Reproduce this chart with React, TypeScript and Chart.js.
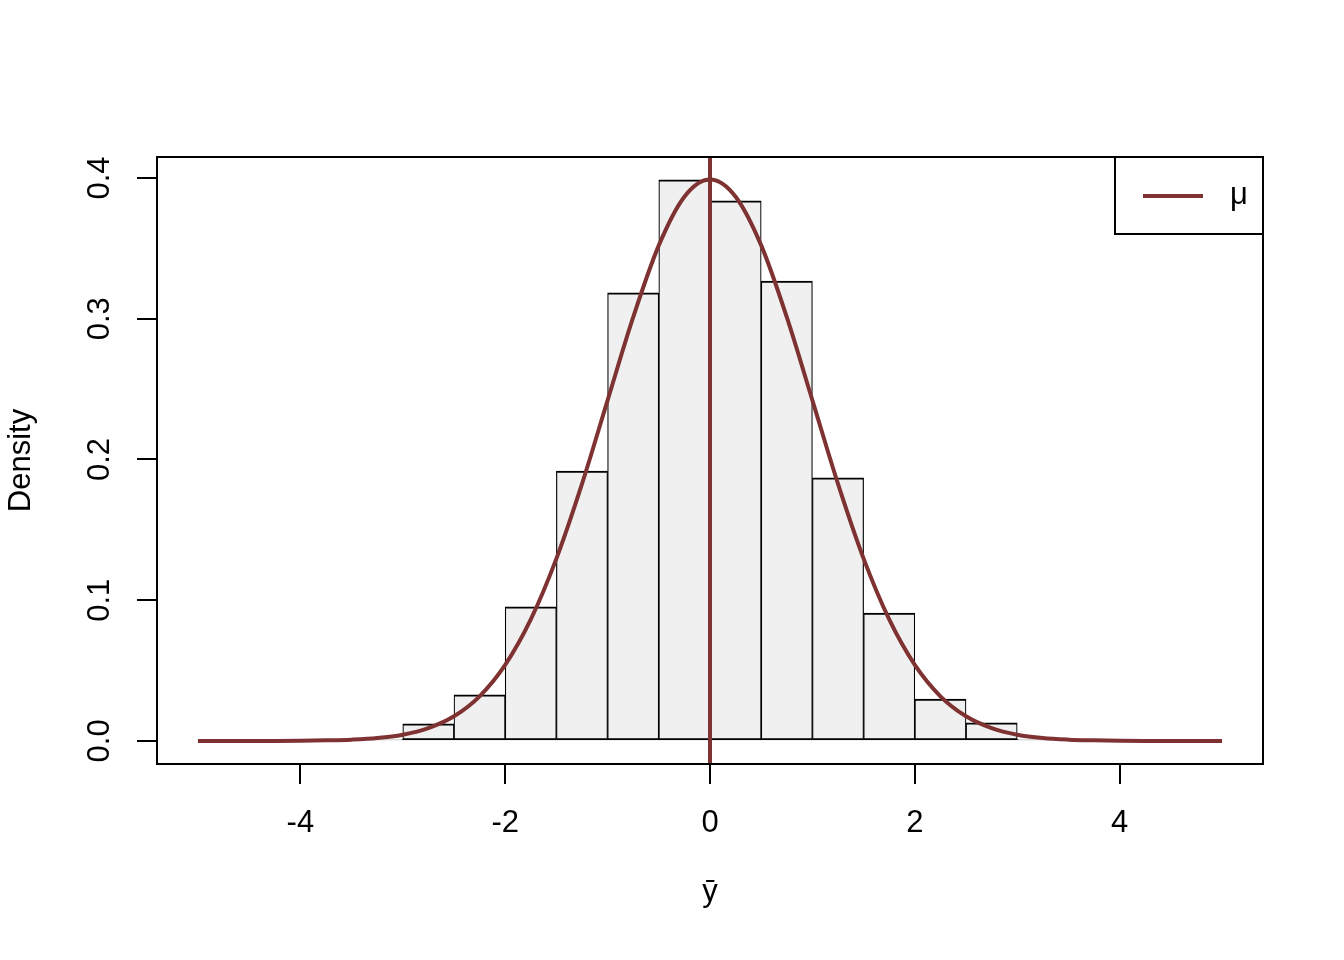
import React, { useEffect, useRef } from "react";
import { Chart, registerables } from "chart.js";

Chart.register(...registerables);

// Histogram of sample means (density scale), bin width 0.5
const histMids = [-3.25, -2.75, -2.25, -1.75, -1.25, -0.75, -0.25, 0.25, 0.75, 1.25, 1.75, 2.25, 2.75, 3.25];
const histDensity = [0.001, 0.0121, 0.0327, 0.0952, 0.1918, 0.3183, 0.3986, 0.3837, 0.3268, 0.1869, 0.0909, 0.0298, 0.0128, 0.001];

// Theoretical density curve
const curveX = [
  -5, -4.75, -4.5, -4.25, -4, -3.75, -3.5, -3.25, -3, -2.75, -2.5, -2.25, -2, -1.75, -1.5, -1.25, -1, -0.75, -0.5, -0.25,
  0, 0.25, 0.5, 0.75, 1, 1.25, 1.5, 1.75, 2, 2.25, 2.5, 2.75, 3, 3.25, 3.5, 3.75, 4, 4.25, 4.5, 4.75, 5,
];
const curveY = [
  0, 0, 0, 0, 0.0001, 0.0004, 0.0009, 0.002, 0.0044, 0.0091, 0.0175, 0.0317, 0.054, 0.0863, 0.1295, 0.1826, 0.242, 0.3011, 0.3521, 0.3867,
  0.3989, 0.3867, 0.3521, 0.3011, 0.242, 0.1826, 0.1295, 0.0863, 0.054, 0.0317, 0.0175, 0.0091, 0.0044, 0.002, 0.0009, 0.0004, 0.0001, 0, 0, 0, 0,
];

const mu = 0;
const xLimits = [-5.4, 5.4];
const yLimits = [-0.0164, 0.4149];
const xTicks = [-4, -2, 0, 2, 4];
const xTickLabels = ["-4", "-2", "0", "2", "4"];
const yTicks = [0, 0.1, 0.2, 0.3, 0.4];
const yTickLabels = ["0.0", "0.1", "0.2", "0.3", "0.4"];
const xTitle = "ȳ";
const yTitle = "Density";
const legendLabel = "μ";

const LINE_COLOR = "#7F3232";
const FONT_FAMILY = "'Liberation Sans', Arial, Helvetica, sans-serif";
const FONT_SIZE = 31;

const framePlugin = {
  id: "rFrame",
  afterDatasetsDraw(chart: any) {
    const { ctx, chartArea: a } = chart;
    ctx.save();
    ctx.strokeStyle = "#000";
    ctx.lineWidth = 2;
    ctx.strokeRect(a.left, a.top, a.right - a.left, a.bottom - a.top);

    // legend (top-right inside plot region)
    const w = 148;
    const h = 77;
    const lx = a.right - w;
    const ly = a.top;
    ctx.fillStyle = "#fff";
    ctx.fillRect(lx, ly, w, h);
    ctx.strokeRect(lx, ly, w, h);
    ctx.strokeStyle = LINE_COLOR;
    ctx.lineWidth = 4;
    ctx.beginPath();
    ctx.moveTo(lx + 28, ly + 39);
    ctx.lineTo(lx + 88, ly + 39);
    ctx.stroke();
    ctx.fillStyle = "#000";
    ctx.font = `${FONT_SIZE}px ${FONT_FAMILY}`;
    ctx.textAlign = "center";
    ctx.textBaseline = "middle";
    ctx.fillText(legendLabel, lx + 124, ly + 38);
    ctx.restore();
  },
};

export default function App() {
  const canvasRef = useRef<HTMLCanvasElement | null>(null);

  useEffect(() => {
    const canvas = canvasRef.current;
    if (!canvas) return;
    const font = { family: FONT_FAMILY, size: FONT_SIZE };

    const chart = new Chart(canvas, {
      type: "bar",
      data: {
        datasets: [
          {
            type: "line",
            label: "mu",
            data: [
              { x: mu, y: yLimits[0] },
              { x: mu, y: yLimits[1] },
            ],
            borderColor: LINE_COLOR,
            borderWidth: 4,
            pointRadius: 0,
            order: 0,
          } as any,
          {
            type: "line",
            label: "density",
            data: curveX.map((x, i) => ({ x, y: curveY[i] })),
            borderColor: LINE_COLOR,
            borderWidth: 4,
            pointRadius: 0,
            cubicInterpolationMode: "monotone",
            order: 1,
          } as any,
          {
            type: "bar",
            label: "hist",
            data: histMids.map((x, i) => ({ x, y: histDensity[i] })),
            backgroundColor: "#F0F0F0",
            borderColor: "#000",
            borderWidth: { left: 1.2, right: 1.2, top: 2, bottom: 2 },
            borderSkipped: false,
            barPercentage: 1,
            categoryPercentage: 1,
            order: 2,
          } as any,
        ],
      },
      options: {
        animation: false,
        responsive: false,
        devicePixelRatio: 1,
        events: [],
        layout: { padding: { top: 157, right: 81, left: 0, bottom: 0 } },
        plugins: { legend: { display: false }, tooltip: { enabled: false } },
        scales: {
          x: {
            type: "linear",
            min: xLimits[0],
            max: xLimits[1],
            offset: false,
            afterBuildTicks: (scale: any) => {
              scale.ticks = xTicks.map((v) => ({ value: v }));
            },
            afterFit: (scale: any) => {
              scale.height = 196;
            },
            ticks: {
              font,
              color: "#000",
              padding: 21,
              maxRotation: 0,
              minRotation: 0,
              autoSkip: false,
              callback: (_v: any, i: number) => xTickLabels[i],
            },
            grid: {
              display: true,
              offset: false,
              drawOnChartArea: false,
              drawTicks: true,
              tickLength: 20,
              color: "#000",
              lineWidth: 2,
            },
            border: { display: true, color: "#000", width: 2 },
            title: {
              display: true,
              text: xTitle,
              font,
              color: "#000",
              padding: { top: 0, bottom: 49 },
            },
          },
          y: {
            type: "linear",
            min: yLimits[0],
            max: yLimits[1],
            afterBuildTicks: (scale: any) => {
              scale.ticks = yTicks.map((v) => ({ value: v }));
            },
            afterFit: (scale: any) => {
              scale.width = 157;
            },
            ticks: {
              font,
              color: "#000",
              padding: 15,
              minRotation: 90,
              maxRotation: 90,
              crossAlign: "center",
              autoSkip: false,
              callback: (_v: any, i: number) => yTickLabels[i],
            },
            grid: {
              display: true,
              drawOnChartArea: false,
              drawTicks: true,
              tickLength: 20,
              color: "#000",
              lineWidth: 2,
            },
            border: { display: true, color: "#000", width: 2 },
            title: {
              display: true,
              text: yTitle,
              font,
              color: "#000",
              padding: { top: 3, bottom: 0 },
            },
          },
        },
      } as any,
      plugins: [framePlugin],
    });

    return () => chart.destroy();
  }, []);

  return (
    <div style={{ position: "absolute", left: 0, top: 0, width: 1344, height: 960, background: "#fff" }}>
      <canvas ref={canvasRef} width={1344} height={960} style={{ display: "block", width: 1344, height: 960 }} />
    </div>
  );
}
